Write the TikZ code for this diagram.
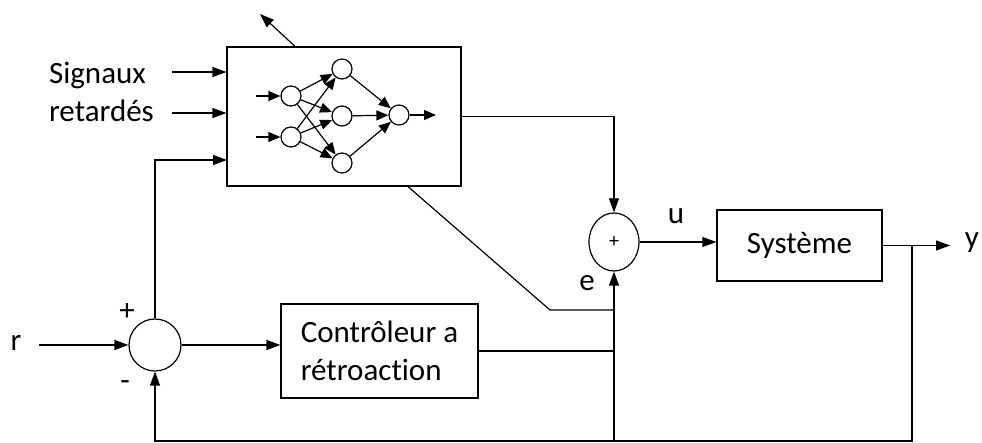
\documentclass[tikz,border=0pt]{standalone}
\usepackage{fontspec}
\setmainfont[Ligatures=NoCommon]{Carlito}
\usetikzlibrary{arrows.meta,shapes.geometric}

\begin{document}
\begin{tikzpicture}[x=0.5pt, y=-0.5pt,
                font=\fontsize{15.5}{19}\selectfont,
                bloc/.style={draw, semithick, inner sep=2pt},
                somme/.style={draw, semithick, circle, inner sep=0pt},
                neurone/.style={circle, draw, semithick, fill=white, inner sep=0pt, minimum size=10pt},
                fl/.style={-{Triangle[length=7pt,width=5pt]}},
                fln/.style={-{Triangle[length=6pt,width=5pt]}},
            ]
            \useasboundingbox (0,0) rectangle (982,443);

            % Blocs
            \node[bloc, minimum width=117pt, minimum height=69.5pt] (rn) at (344,116.5) {};
            \node[bloc, minimum width=98.5pt, minimum height=47pt, align=left] (ctrl) at (379.5,351) {Contrôleur a\\rétroaction};
            \node[bloc, minimum width=82.5pt, minimum height=35.5pt] (sys) at (799.5,245.5) {Système};
            \node[somme, minimum size=26pt] (s1) at (155,345) {};
            \node[somme, ellipse, minimum width=25pt, minimum height=29pt, font=\fontsize{10}{10}\selectfont] (s2) at (614,242) {+};

            % Réseau de neurones
            \node[neurone] (e1) at (291,96) {}; \node[neurone] (e2) at (291,137) {};
            \node[neurone] (c1) at (342,69) {}; \node[neurone] (c2) at (342,116) {}; \node[neurone] (c3) at (342,163) {};
            \node[neurone] (so) at (399,115) {};
            \coordinate (x1) at (256,96); \coordinate (x2) at (256,137); \coordinate (xs) at (436,115);
            \draw[semithick, fln] (x1) -- (e1);
            \draw[semithick, fln] (x2) -- (e2);
            \foreach \a in {e1,e2}
                \foreach \b in {c1,c2,c3}
                    \draw[semithick, fln] (\a) -- (\b);
            \foreach \b in {c1,c2,c3}
                \draw[semithick, fln] (\b) -- (so);
            \draw[semithick, fln] (so) -- (xs);

            % Textes
            \node[anchor=west, align=left] (sig) at (42,92) {Signaux\\retardés};
            \node (lr) at (16,343) {r};
            \node (lplus) at (127,312) {+};
            \node (lmoins) at (125,386) {-};
            \node (le) at (587,283) {e};
            \node (lu) at (676,216) {u};
            \node (ly) at (972,243) {y};

            % Liaisons
            \coordinate (rin) at (39,345);
            \coordinate (g1) at (172,72); \coordinate (g2) at (172,113); \coordinate (g3) at (227,160);
            \coordinate (haut) at (260,14);
            \coordinate (k1) at (550,310);
            \coordinate (yout) at (950,245.5);
            \coordinate (fb) at (912,245.5);
            \coordinate (bg) at (155,441); \coordinate (bm) at (614,441);

            \draw[semithick, fl] (rin) -- (s1);
            \draw[semithick, fl] (s1) -- (s1 -| ctrl.west);
            \draw[semithick, fl] (g1) -- (g1 -| rn.west);
            \draw[semithick, fl] (g2) -- (g2 -| rn.west);
            \draw[semithick, fl] (s1) |- (g3);
            \draw[semithick, fl] ([xshift=-24.5pt]rn.north) -- (haut);
            \draw[semithick, fl] (rn.east) -| (s2.north);
            \draw[semithick] ([xshift=32pt]rn.south) -- (k1) -- (k1 -| s2);
            \draw[semithick] (ctrl.east) -- (ctrl.east -| s2);
            \draw[semithick, fl] (bm) -- (s2.south);
            \draw[semithick, fl] (s2.east) -- (s2.east -| sys.west);
            \draw[semithick, fl] (sys.east) -- (yout);
            \draw[semithick, fl] (fb) |- (bg) -- (s1.south);
        \end{tikzpicture}
\end{document}
